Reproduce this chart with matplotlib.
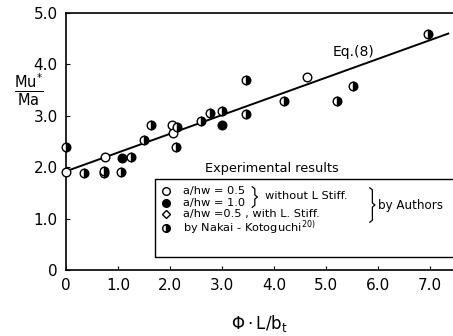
import matplotlib
matplotlib.use('Agg')
import matplotlib.pyplot as plt
import numpy as np
from matplotlib.patches import Rectangle

# a/hw = 0.5, without L. Stiff. (open circles)
open_x = [0.0, 0.75, 2.04, 2.06, 4.64]
open_y = [1.91, 2.20, 2.83, 2.66, 3.75]

# a/hw = 1.0, without L. Stiff. (filled circles)
fill_x = [1.07, 2.99]
fill_y = [2.18, 2.82]

# by Nakai - Kotoguchi (half filled)
half_x = [0.0, 0.35, 0.74, 0.74, 1.05, 1.24, 1.49, 1.63, 2.13, 2.11,
          2.60, 2.76, 2.99, 3.47, 3.47, 4.19, 5.21, 5.51, 6.96]
half_y = [2.40, 1.89, 1.88, 1.93, 1.90, 2.19, 2.53, 2.83, 2.79, 2.39,
          2.89, 3.05, 3.10, 3.03, 3.70, 3.29, 3.29, 3.58, 4.60]

# Eq.(8)
eq_x = [0.08, 7.35]
eq_y = [1.95, 4.60]

xticks = [0, 1, 2, 3, 4, 5, 6, 7]
xtick_labels = ['0', '1.0', '2.0', '3.0', '4.0', '5.0', '6.0', '7.0']
yticks = [0, 1, 2, 3, 4, 5]
ytick_labels = ['0', '1.0', '2.0', '3.0', '4.0', '5.0']

plt.rcParams['font.family'] = ['DejaVu Sans']


def brace(ax, x, y0, y1, w=0.1):
    # right curly brace between y0 (top) and y1 (bottom)
    ym = (y0 + y1) / 2
    xs = [x, x + w * 0.5, x + w * 0.5, x + w, x + w * 0.5, x + w * 0.5, x]
    ys = [y0, y0 - 0.04, ym + 0.04, ym, ym - 0.04, y1 + 0.04, y1]
    ax.plot(xs, ys, color='black', lw=0.9, clip_on=False, zorder=5)


fig = plt.figure(figsize=(4.53, 3.36), dpi=100)
ax = fig.add_axes([66/453, 1-270/336, 1-66/453, (270-13)/336])
ax.set_xlim(0, 7.44)
ax.set_ylim(0, 5.0)

ax.plot(eq_x, eq_y, color='black', lw=1.4, zorder=2)
ms = 6.2
ax.plot(open_x, open_y, 'o', ms=ms, mfc='white', mec='black', mew=1.0, zorder=3, clip_on=False)
ax.plot(fill_x, fill_y, 'o', ms=ms, mfc='black', mec='black', zorder=3)
ax.plot(half_x, half_y, 'o', ms=ms, fillstyle='right', mfc='black', mfcalt='white',
        mec='black', mew=1.0, zorder=3, clip_on=False)

ax.text(5.13, 4.24, 'Eq.(8)', fontsize=10, ha='left', va='center')

ax.spines['right'].set_visible(False)
for s in ['left', 'bottom', 'top']:
    ax.spines[s].set_linewidth(1.2)
ax.set_xticks(xticks)
ax.set_xticklabels(xtick_labels)
ax.set_yticks(yticks)
ax.set_yticklabels(ytick_labels)
ax.tick_params(direction='in', length=3, width=0.8, labelsize=11, pad=6)

ax.set_xlabel(r'$\Phi\cdot\mathrm{L/b_t}$', fontsize=12, labelpad=14)
fig.text(29/453, 1-90/336, r'$\frac{\mathrm{Mu}^{*}}{\mathrm{Ma}}$', fontsize=15,
         ha='center', va='center')

# legend block, drawn by hand
fs = 8.2
ax.text(3.96, 1.97, 'Experimental results', fontsize=9.3, ha='center', va='center')
ax.add_patch(Rectangle((1.71, 0.25), 5.8, 1.52, fill=False, lw=1.0, ec='black', clip_on=False, zorder=4))
rows = [1.53, 1.31, 1.08, 0.82]
mx = 1.92
tx = 2.25
ax.plot([mx], [rows[0]], 'o', ms=5.5, mfc='white', mec='black', zorder=5)
ax.plot([mx], [rows[1]], 'o', ms=5.5, mfc='black', mec='black', zorder=5)
ax.plot([mx], [rows[2]], 'D', ms=4.5, mfc='white', mec='black', zorder=5)
ax.plot([mx], [rows[3]], 'o', ms=5.5, fillstyle='right', mfc='black', mfcalt='white', mec='black', zorder=5)
ax.text(tx, rows[0], 'a/hw = 0.5', fontsize=fs, va='center')
ax.text(tx, rows[1], 'a/hw = 1.0', fontsize=fs, va='center')
ax.text(tx, rows[2], 'a/hw =0.5 , with L. Stiff.', fontsize=fs, va='center')
ax.text(tx, rows[3], r'by Nakai - Kotoguchi$^{20)}$', fontsize=fs, va='center')
brace(ax, 3.58, 1.62, 1.22)
ax.text(3.82, 1.43, 'without L Stiff.', fontsize=fs, va='center')
brace(ax, 5.84, 1.60, 0.93)
ax.text(6.00, 1.25, 'by Authors', fontsize=fs + 0.4, va='center')

fig.savefig('out.png', dpi=100)
